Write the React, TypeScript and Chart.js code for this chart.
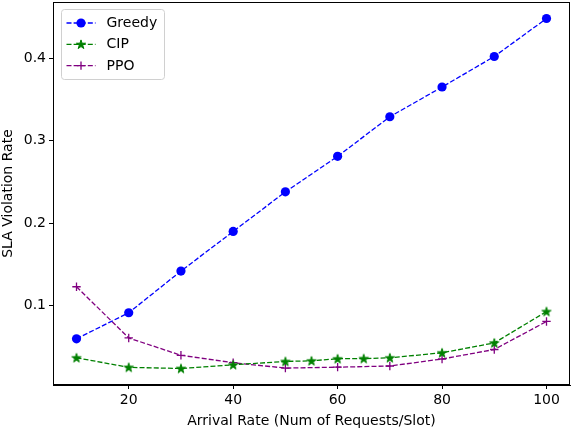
import React, { useEffect, useRef } from "react";
import { Chart, registerables } from "chart.js";
Chart.register(...registerables);

const FONT = "'DejaVu Sans', sans-serif";

const greedyX = [10, 20, 30, 40, 50, 60, 70, 80, 90, 100];
const greedyY = [0.06, 0.0915, 0.142, 0.19, 0.238, 0.281, 0.329, 0.365, 0.402, 0.448];

const cipX = [10, 20, 30, 40, 50, 55, 60, 65, 70, 80, 90, 100];
const cipY = [0.037, 0.0254, 0.024, 0.0285, 0.0325, 0.0333, 0.0358, 0.036, 0.037, 0.043, 0.055, 0.093];

const ppoX = [10, 20, 30, 40, 50, 60, 70, 80, 90, 100];
const ppoY = [0.123, 0.061, 0.04, 0.031, 0.0245, 0.0256, 0.027, 0.0355, 0.047, 0.081];

const xTicks = [20, 40, 60, 80, 100];
const yTicks = [0.1, 0.2, 0.3, 0.4];
const seriesNames = ["Greedy", "CIP", "PPO"];
const seriesColors = ["#0000ff", "#008000", "#800080"];
const xTitle = "Arrival Rate (Num of Requests/Slot)";
const yTitle = "SLA Violation Rate";

// plot area box (layout only)
const AREA = { left: 53, top: 2, right: 570, bottom: 385 };
const LW = 1.3;
const DASH = [5, 2.1];
const CIRCLE_R = 4.6;
const STAR_R = 4.8;
const PLUS_R = 4.2;

function starPath(ctx: CanvasRenderingContext2D, cx: number, cy: number, R: number) {
  const r = R * 0.381966;
  ctx.beginPath();
  for (let i = 0; i < 10; i++) {
    const rad = i % 2 === 0 ? R : r;
    const a = -Math.PI / 2 + (i * Math.PI) / 5;
    const px = cx + rad * Math.cos(a);
    const py = cy + rad * Math.sin(a);
    if (i === 0) ctx.moveTo(px, py);
    else ctx.lineTo(px, py);
  }
  ctx.closePath();
}

function makeStar(color: string) {
  const c = document.createElement("canvas");
  c.width = 14;
  c.height = 14;
  const ctx = c.getContext("2d")!;
  ctx.fillStyle = color;
  ctx.strokeStyle = color;
  ctx.lineWidth = 1;
  ctx.lineJoin = "miter";
  starPath(ctx, 7, 7.4, STAR_R);
  ctx.fill();
  ctx.stroke();
  return c;
}

function drawMarker(ctx: CanvasRenderingContext2D, i: number, x: number, y: number) {
  const color = seriesColors[i];
  ctx.save();
  ctx.setLineDash([]);
  ctx.fillStyle = color;
  ctx.strokeStyle = color;
  ctx.lineWidth = 1;
  if (i === 0) {
    ctx.beginPath();
    ctx.arc(x, y, CIRCLE_R, 0, Math.PI * 2);
    ctx.fill();
  } else if (i === 1) {
    starPath(ctx, x, y + 0.4, STAR_R);
    ctx.fill();
    ctx.stroke();
  } else {
    ctx.lineWidth = LW;
    ctx.beginPath();
    ctx.moveTo(x - PLUS_R, y);
    ctx.lineTo(x + PLUS_R, y);
    ctx.moveTo(x, y - PLUS_R);
    ctx.lineTo(x, y + PLUS_R);
    ctx.stroke();
  }
  ctx.restore();
}

const fixLayoutPlugin = {
  id: "fixLayout",
  afterLayout(chart: any) {
    const { left, top, right, bottom } = AREA;
    chart.chartArea.left = left;
    chart.chartArea.top = top;
    chart.chartArea.right = right;
    chart.chartArea.bottom = bottom;
    chart.chartArea.width = right - left;
    chart.chartArea.height = bottom - top;
    const x = chart.scales.x;
    x.left = left;
    x.right = right;
    x.top = bottom;
    x.bottom = chart.height;
    x.width = right - left;
    x.height = chart.height - bottom;
    x.configure();
    const y = chart.scales.y;
    y.left = 0;
    y.right = left;
    y.top = top;
    y.bottom = bottom;
    y.width = left;
    y.height = bottom - top;
    y.configure();
  },
};

const framePlugin = {
  id: "frame",
  afterDraw(chart: any) {
    const { ctx, chartArea: a } = chart;
    ctx.save();
    ctx.strokeStyle = "black";
    ctx.lineWidth = 1;
    ctx.strokeRect(a.left + 0.5, a.top + 0.5, a.right - a.left - 1, a.bottom - a.top - 1);
    ctx.restore();
  },
};

const legendPlugin = {
  id: "mplLegend",
  afterDraw(chart: any) {
    const { ctx, chartArea: a } = chart;
    const bx = a.left + 8.5;
    const by = a.top + 7.5;
    const bw = 103;
    const bh = 70;
    ctx.save();
    ctx.beginPath();
    const r = 3;
    ctx.moveTo(bx + r, by);
    ctx.lineTo(bx + bw - r, by);
    ctx.arcTo(bx + bw, by, bx + bw, by + r, r);
    ctx.lineTo(bx + bw, by + bh - r);
    ctx.arcTo(bx + bw, by + bh, bx + bw - r, by + bh, r);
    ctx.lineTo(bx + r, by + bh);
    ctx.arcTo(bx, by + bh, bx, by + bh - r, r);
    ctx.lineTo(bx, by + r);
    ctx.arcTo(bx, by, bx + r, by, r);
    ctx.closePath();
    ctx.fillStyle = "rgba(255,255,255,0.8)";
    ctx.fill();
    ctx.strokeStyle = "#d0d0d0";
    ctx.lineWidth = 1;
    ctx.stroke();
    seriesNames.forEach((name, i) => {
      const y = by + 13.5 + i * 21.3;
      ctx.strokeStyle = seriesColors[i];
      ctx.lineWidth = LW;
      ctx.setLineDash(DASH);
      ctx.beginPath();
      ctx.moveTo(bx + 5, y);
      ctx.lineTo(bx + 34, y);
      ctx.stroke();
      ctx.setLineDash([]);
      drawMarker(ctx, i, bx + 19.5, y);
      ctx.fillStyle = "black";
      ctx.font = `14px ${FONT}`;
      ctx.textBaseline = "middle";
      ctx.textAlign = "left";
      ctx.fillText(name, bx + 45, y + 0.5);
    });
    ctx.restore();
  },
};

export default function App() {
  const ref = useRef<HTMLCanvasElement>(null);
  useEffect(() => {
    document.body.style.margin = "0";
    const star = makeStar(seriesColors[1]);
    const mk = (xs: number[], ys: number[]) => xs.map((x, k) => ({ x, y: ys[k] }));
    const common = {
      borderWidth: LW,
      borderDash: DASH,
      fill: false,
      tension: 0,
    };
    const chart = new Chart(ref.current!, {
      type: "line",
      data: {
        datasets: [
          {
            ...common,
            label: seriesNames[0],
            data: mk(greedyX, greedyY),
            borderColor: seriesColors[0],
            backgroundColor: seriesColors[0],
            pointStyle: "circle",
            pointRadius: CIRCLE_R,
            pointBorderWidth: 0,
          },
          {
            ...common,
            label: seriesNames[1],
            data: mk(cipX, cipY),
            borderColor: seriesColors[1],
            backgroundColor: seriesColors[1],
            pointStyle: star as any,
            pointRadius: 5,
          },
          {
            ...common,
            label: seriesNames[2],
            data: mk(ppoX, ppoY),
            borderColor: seriesColors[2],
            backgroundColor: seriesColors[2],
            pointStyle: "cross",
            pointRadius: PLUS_R,
            pointBorderWidth: LW,
          },
        ],
      },
      options: {
        animation: false,
        responsive: false,
        maintainAspectRatio: false,
        layout: { padding: { top: 2, right: 2, left: 0, bottom: 0 } },
        plugins: { legend: { display: false }, tooltip: { enabled: false } },
        scales: {
          x: {
            type: "linear",
            min: 5.5,
            max: 104.5,
            afterBuildTicks: (s: any) => {
              s.ticks = xTicks.map((v) => ({ value: v }));
            },
            ticks: {
              color: "black",
              font: { family: FONT, size: 14 },
              padding: 3,
              maxRotation: 0,
              autoSkip: false,
            },
            grid: { drawOnChartArea: false, drawTicks: true, tickLength: 4, color: "black" },
            border: { color: "black" },
            title: {
              display: true,
              text: xTitle,
              color: "black",
              font: { family: FONT, size: 14 },
              padding: { top: 0, bottom: 0 },
            },
          },
          y: {
            type: "linear",
            min: 0.004,
            max: 0.468,
            afterBuildTicks: (s: any) => {
              s.ticks = yTicks.map((v) => ({ value: v }));
            },
            ticks: {
              color: "black",
              font: { family: FONT, size: 14 },
              padding: 3,
              callback: (v: any) => Number(v).toFixed(1),
            },
            grid: { drawOnChartArea: false, drawTicks: true, tickLength: 4, color: "black" },
            border: { color: "black" },
            title: {
              display: true,
              text: yTitle,
              color: "black",
              font: { family: FONT, size: 14 },
              padding: { top: 0, bottom: 0 },
            },
          },
        },
      } as any,
      plugins: [fixLayoutPlugin, framePlugin, legendPlugin],
    });
    return () => chart.destroy();
  }, []);
  return (
    <div style={{ width: 572, height: 430 }}>
      <canvas ref={ref} width={572} height={430} style={{ display: "block" }} />
    </div>
  );
}
